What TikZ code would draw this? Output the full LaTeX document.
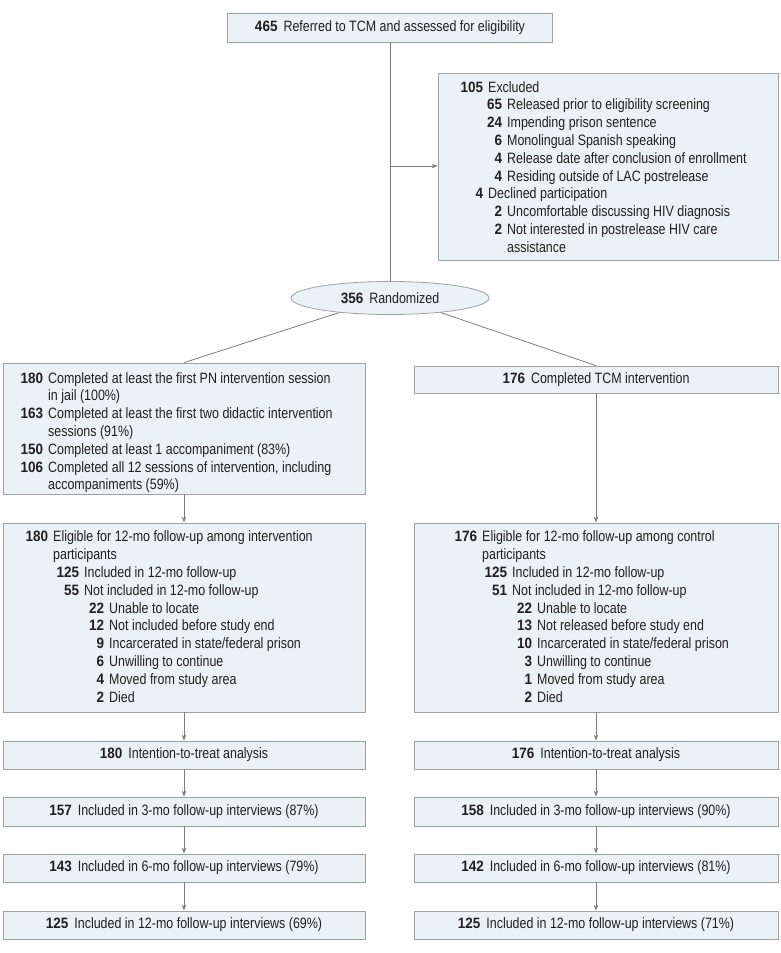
\documentclass[tikz,border=0pt]{standalone}
\usepackage{fontspec}
\setmainfont{Liberation Sans}[FakeStretch=0.83]
\newfontfamily\numfam{Liberation Sans}[FakeStretch=0.9]
\usetikzlibrary{arrows.meta,shapes.geometric}
\definecolor{boxfill}{RGB}{234,242,245}
\definecolor{bordergray}{RGB}{160,160,160}
\definecolor{linegray}{RGB}{125,125,125}
\definecolor{textblack}{RGB}{35,31,32}
\newcommand\nm[1]{{\numfam\bfseries #1}}
\newcommand\li[3]{\makebox[#1][r]{\nm{#2}}\hspace{5pt}#3}
\newcommand\cl[2]{\hspace*{#1}\hspace*{5pt}#2}
\begin{document}
\begin{tikzpicture}[x=1pt,y=-1pt,
  font=\fontsize{15}{17.8}\selectfont,
  box/.style={draw=bordergray, fill=boxfill, line width=0.8pt, inner sep=0pt, rectangle, text=textblack},
  txt/.style={anchor=north west, inner sep=0pt, align=left, text=textblack},
  conn/.style={draw=linegray, line width=0.8pt},
  arr/.style={conn, -{Stealth[length=6pt,width=4.5pt]}}]
\useasboundingbox (0,0) rectangle (780,953);

\node[box, minimum width=325pt, minimum height=29pt] (top) at (390,27.5)
  {\nm{465}\hspace{6pt}Referred to TCM and assessed for eligibility};

\node[box, minimum width=340pt, minimum height=187pt] (excl) at (608,166.5) {};
\node[txt] (excltxt) at (438,79.5) {\strut\li{45pt}{105}{Excluded}\\
\li{64pt}{65}{Released prior to eligibility screening}\\
\li{64pt}{24}{Impending prison sentence}\\
\li{64pt}{6}{Monolingual Spanish speaking}\\
\li{64pt}{4}{Release date after conclusion of enrollment}\\
\li{64pt}{4}{Residing outside of LAC postrelease}\\
\li{45pt}{4}{Declined participation}\\
\li{64pt}{2}{Uncomfortable discussing HIV diagnosis}\\
\li{64pt}{2}{Not interested in postrelease HIV care}\\
\cl{64pt}{assistance}};

\node[ellipse, draw=bordergray, fill=boxfill, line width=0.8pt, minimum width=198pt, minimum height=33pt, inner sep=0pt, text=textblack] (ell) at (390,298)
  {\nm{356}\hspace{6pt}Randomized};

\node[box, minimum width=362pt, minimum height=131pt] (L1) at (184,428.5) {};
\node[txt] (L1txt) at (3,370.5) {\strut\li{40pt}{180}{Completed at least the first PN intervention session}\\
\cl{40pt}{in jail (100\%)}\\
\li{40pt}{163}{Completed at least the first two didactic intervention}\\
\cl{40pt}{sessions (91\%)}\\
\li{40pt}{150}{Completed at least 1 accompaniment (83\%)}\\
\li{40pt}{106}{Completed all 12 sessions of intervention, including}\\
\cl{40pt}{accompaniments (59\%)}};

\node[box, minimum width=364pt, minimum height=27pt] (R1) at (596,379.5)
  {\nm{176}\hspace{6pt}Completed TCM intervention};

\node[box, minimum width=362pt, minimum height=189pt] (L2) at (184,617.5) {};
\node[txt] (L2txt) at (3,529.2) {\strut\li{45pt}{180}{Eligible for 12-mo follow-up among intervention}\\
\cl{45pt}{participants}\\
\li{76pt}{125}{Included in 12-mo follow-up}\\
\li{76pt}{55}{Not included in 12-mo follow-up}\\
\li{101pt}{22}{Unable to locate}\\
\li{101pt}{12}{Not included before study end}\\
\li{101pt}{9}{Incarcerated in state/federal prison}\\
\li{101pt}{6}{Unwilling to continue}\\
\li{101pt}{4}{Moved from study area}\\
\li{101pt}{2}{Died}};

\node[box, minimum width=364pt, minimum height=189pt] (R2) at (596,617.5) {};
\node[txt] (R2txt) at (414,529.2) {\strut\li{63pt}{176}{Eligible for 12-mo follow-up among control}\\
\cl{63pt}{participants}\\
\li{93pt}{125}{Included in 12-mo follow-up}\\
\li{93pt}{51}{Not included in 12-mo follow-up}\\
\li{118pt}{22}{Unable to locate}\\
\li{118pt}{13}{Not released before study end}\\
\li{118pt}{10}{Incarcerated in state/federal prison}\\
\li{118pt}{3}{Unwilling to continue}\\
\li{118pt}{1}{Moved from study area}\\
\li{118pt}{2}{Died}};

\node[box, minimum width=362pt, minimum height=28pt] (L3) at (184,755) {\nm{180}\hspace{6pt}Intention-to-treat analysis};
\node[box, minimum width=364pt, minimum height=28pt] (R3) at (596,755) {\nm{176}\hspace{6pt}Intention-to-treat analysis};
\node[box, minimum width=362pt, minimum height=29pt] (L4) at (184,811.5) {\nm{157}\hspace{6pt}Included in 3-mo follow-up interviews (87\%)};
\node[box, minimum width=364pt, minimum height=29pt] (R4) at (596,811.5) {\nm{158}\hspace{6pt}Included in 3-mo follow-up interviews (90\%)};
\node[box, minimum width=362pt, minimum height=28pt] (L5) at (184,868) {\nm{143}\hspace{6pt}Included in 6-mo follow-up interviews (79\%)};
\node[box, minimum width=364pt, minimum height=28pt] (R5) at (596,868) {\nm{142}\hspace{6pt}Included in 6-mo follow-up interviews (81\%)};
\node[box, minimum width=362pt, minimum height=28pt] (L6) at (184,925) {\nm{125}\hspace{6pt}Included in 12-mo follow-up interviews (69\%)};
\node[box, minimum width=364pt, minimum height=28pt] (R6) at (596,925) {\nm{125}\hspace{6pt}Included in 12-mo follow-up interviews (71\%)};

\coordinate (jx) at (390,166);
\draw[conn] (top.south) -- (ell.north);
\draw[arr] (jx) -- (jx -| excl.west);
\draw[conn] (ell.196) -- (L1.north);
\draw[conn] (ell.-16) -- (R1.north);
\draw[arr] (L1.south) -- (L2.north);
\draw[arr] (R1.south) -- (R2.north);
\draw[arr] (L2.south) -- (L3.north);
\draw[arr] (R2.south) -- (R3.north);
\draw[arr] (L3.south) -- (L4.north);
\draw[arr] (R3.south) -- (R4.north);
\draw[arr] (L4.south) -- (L5.north);
\draw[arr] (R4.south) -- (R5.north);
\draw[arr] (L5.south) -- (L6.north);
\draw[arr] (R5.south) -- (R6.north);
\end{tikzpicture}
\end{document}
